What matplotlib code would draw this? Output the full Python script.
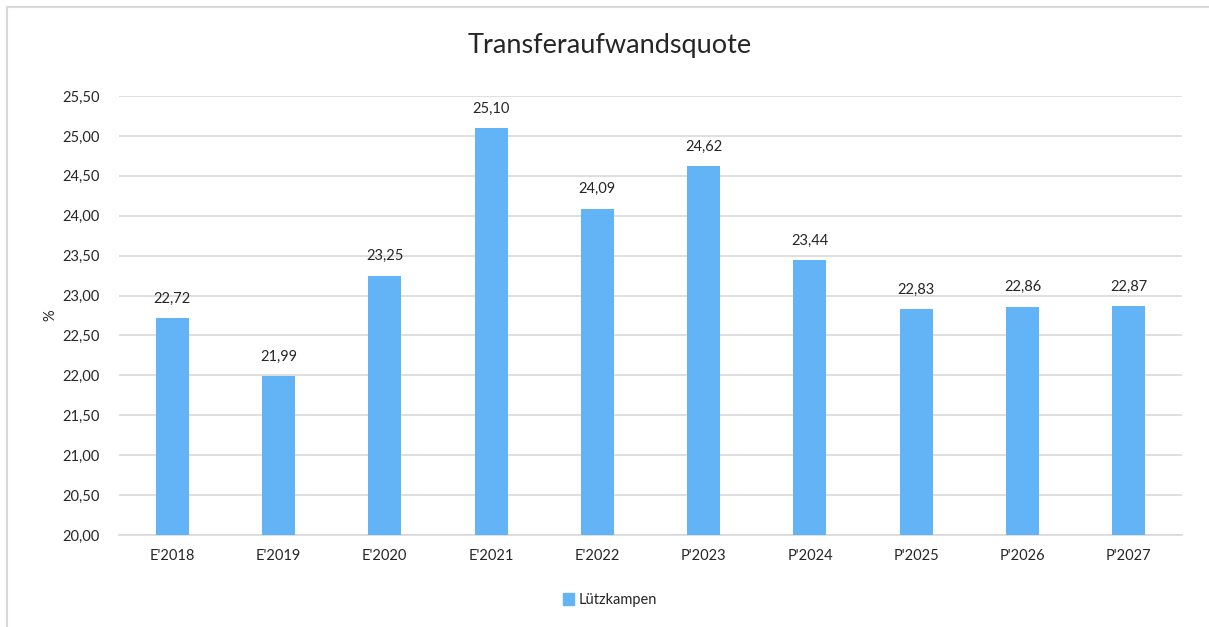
import matplotlib
matplotlib.use('Agg')
import matplotlib.pyplot as plt
import matplotlib.patches as mpatches
import numpy as np

# Chart data
categories = ["E'2018", "E'2019", "E'2020", "E'2021", "E'2022",
              "P'2023", "P'2024", "P'2025", "P'2026", "P'2027"]
values = [22.72, 21.99, 23.25, 25.10, 24.09, 24.62, 23.44, 22.83, 22.86, 22.87]
series_name = 'Lützkampen'
y_ticks = [20.0, 20.5, 21.0, 21.5, 22.0, 22.5, 23.0, 23.5, 24.0, 24.5, 25.0, 25.5]

bar_color = '#63B4F6'
grid_color = '#D9D9D9'
text_color = '#262626'

plt.rcParams['font.family'] = ['Lato', 'DejaVu Sans']

fig = plt.figure(figsize=(12.09, 6.27), dpi=100)
ax = fig.add_axes([119 / 1209, 1 - 535 / 627, (1182 - 119) / 1209, (535 - 96) / 627])

x = np.arange(len(categories))
bars = ax.bar(x, values, width=0.31, color=bar_color, zorder=3)

# Data labels above the bars, German decimal comma
for xi, v in zip(x, values):
    ax.annotate(f'{v:.2f}'.replace('.', ','), (xi, v), xytext=(0, 9),
                textcoords='offset points', ha='center', va='bottom',
                fontsize=10.5, color=text_color)

ax.set_xlim(-0.5, len(categories) - 0.5)
ax.set_ylim(20, 25.5)
ax.set_yticks(y_ticks)
ax.set_yticklabels([f'{t:.2f}'.replace('.', ',') for t in y_ticks])
ax.set_xticks(x)
ax.set_xticklabels(categories)
ax.tick_params(axis='both', length=0, labelsize=10.5, colors=text_color)
ax.tick_params(axis='y', pad=14)
ax.tick_params(axis='x', pad=10)
ax.grid(axis='y', color=grid_color, linewidth=1.2, zorder=0)

for side in ['top', 'right', 'left']:
    ax.spines[side].set_visible(False)
ax.spines['bottom'].set_color(grid_color)
ax.spines['bottom'].set_linewidth(1.2)

fig.text(50 / 1209, 1 - 315 / 627, '%', rotation=90, ha='center', va='center',
         fontsize=10.5, color=text_color)
fig.text(610 / 1209, 1 - 45 / 627, 'Transferaufwandsquote', ha='center', va='center',
         fontsize=19.5, color=text_color)

# Legend
handle = mpatches.Patch(color=bar_color, label=series_name)
fig.legend(handles=[handle], loc='center', bbox_to_anchor=(610 / 1209, 1 - 600 / 627),
           frameon=False, fontsize=10.5, handlelength=0.8, handleheight=0.8,
           handletextpad=0.3, labelcolor=text_color)

# Outer chart border
border = mpatches.Rectangle((7 / 1209, -0.1), 1.2, 1.1 - 7 / 627, transform=fig.transFigure,
                            fill=False, edgecolor=grid_color, linewidth=1.5)
fig.add_artist(border)

fig.savefig('out.png', dpi=100, facecolor='white')
